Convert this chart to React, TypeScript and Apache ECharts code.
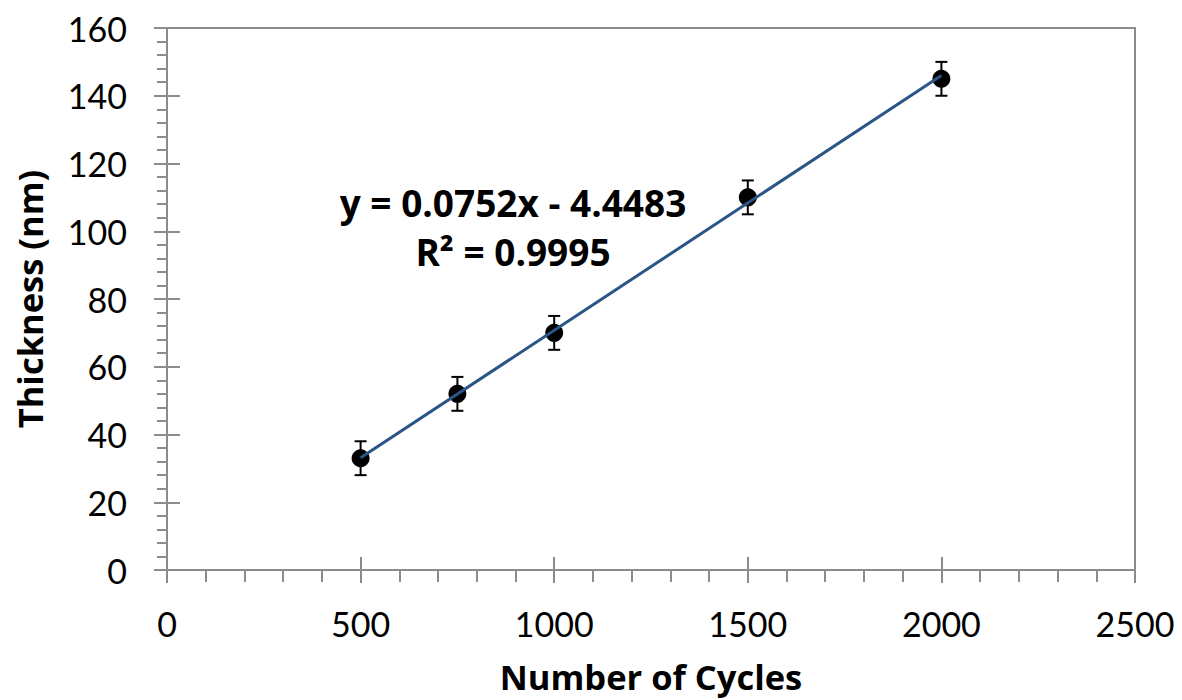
import React, { useEffect, useRef } from "react";
import * as echarts from "echarts";

const cycles = [500, 750, 1000, 1500, 2000];
const thickness = [33, 52, 70, 110, 145];
const errors = [5, 5, 5, 5, 5];
const trendSlope = 0.0752;
const trendIntercept = -4.4483;
const trendRange = [500, 2000];
const equationText = "y = 0.0752x - 4.4483";
const r2Text = "R² = 0.9995";

const FONT = "Lato";
const BOLD_FONT = "'Open Sans'";
const AXIS_GRAY = "#8c8c8c";

export default function App() {
  const ref = useRef<HTMLDivElement>(null);
  useEffect(() => {
    const chart = echarts.init(ref.current!, null, { renderer: "svg" });
    const points = cycles.map((c, i) => [c, thickness[i]]);
    const errData = cycles.map((c, i) => [c, thickness[i], errors[i]]);
    const trend = trendRange.map((x) => [x, trendSlope * x + trendIntercept]);
    const labelStyle = { color: "#000", fontFamily: FONT, fontSize: 34 };
    const nameStyle = { color: "#000", fontFamily: "Open Sans", fontSize: 34.5, fontWeight: "bold" as const };
    chart.setOption({
      animation: false,
      backgroundColor: "#fff",
      grid: {
        left: 167,
        right: 47,
        top: 28,
        bottom: 130,
        containLabel: false,
        outerBoundsMode: "none",
        show: true,
        borderColor: AXIS_GRAY,
        borderWidth: 2,
        backgroundColor: "transparent",
      },
      xAxis: [
        {
          type: "value",
          min: 0,
          max: 2500,
          interval: 500,
          name: "Number of Cycles",
          nameLocation: "middle",
          nameGap: 89,
          nameTextStyle: nameStyle,
          axisLine: { show: true, lineStyle: { color: AXIS_GRAY, width: 2 } },
          axisTick: { show: true, inside: false, length: 13, lineStyle: { color: AXIS_GRAY, width: 2 } },
          minorTick: { show: true, splitNumber: 5, length: 12, lineStyle: { color: AXIS_GRAY, width: 2 } },
          splitLine: { show: false },
          minorSplitLine: { show: false },
          axisLabel: { ...labelStyle, margin: 36, formatter: (v: number) => String(v) },
        },
        {
          type: "value",
          position: "bottom",
          min: 0,
          max: 2500,
          interval: 500,
          axisLine: { show: false },
          axisTick: { show: true, inside: true, length: 13, lineStyle: { color: AXIS_GRAY, width: 2 } },
          axisLabel: { show: false },
          splitLine: { show: false },
        },
      ],
      yAxis: [
        {
          type: "value",
          min: 0,
          max: 160,
          interval: 20,
          name: "Thickness (nm)",
          nameLocation: "middle",
          nameGap: 120,
          nameTextStyle: nameStyle,
          axisLine: { show: true, lineStyle: { color: AXIS_GRAY, width: 2 } },
          axisTick: { show: true, inside: false, length: 13, lineStyle: { color: AXIS_GRAY, width: 2 } },
          minorTick: { show: true, splitNumber: 5, length: 10, lineStyle: { color: AXIS_GRAY, width: 2 } },
          splitLine: { show: false },
          minorSplitLine: { show: false },
          axisLabel: { ...labelStyle, margin: 40 },
        },
        {
          type: "value",
          position: "left",
          min: 0,
          max: 160,
          interval: 20,
          axisLine: { show: false },
          axisTick: { show: true, inside: true, length: 13, lineStyle: { color: AXIS_GRAY, width: 2 } },
          axisLabel: { show: false },
          splitLine: { show: false },
        },
      ],
      series: [
        {
          type: "custom",
          name: "error",
          data: errData,
          z: 2,
          renderItem: (params: any, api: any) => {
            const x = api.value(0);
            const y = api.value(1);
            const e = api.value(2);
            const top = api.coord([x, y + e]);
            const bot = api.coord([x, y - e]);
            const half = 6;
            const style = { stroke: "#000", lineWidth: 2 };
            return {
              type: "group",
              children: [
                { type: "line", shape: { x1: top[0], y1: top[1], x2: bot[0], y2: bot[1] }, style },
                { type: "line", shape: { x1: top[0] - half, y1: top[1], x2: top[0] + half, y2: top[1] }, style },
                { type: "line", shape: { x1: bot[0] - half, y1: bot[1], x2: bot[0] + half, y2: bot[1] }, style },
              ],
            };
          },
        },
        {
          type: "scatter",
          name: "Thickness",
          data: points,
          symbol: "circle",
          symbolSize: 18,
          itemStyle: { color: "#000", opacity: 1 },
          z: 3,
        },
        {
          type: "line",
          name: "Trend",
          data: trend,
          showSymbol: false,
          symbol: "none",
          lineStyle: { color: "#2a5587", width: 3 },
          z: 4,
        },
      ],
      graphic: [
        {
          type: "text",
          x: 513,
          y: 202,
          style: {
            text: equationText,
            fill: "#000",
            font: `bold 37px ${BOLD_FONT}`,
            align: "center",
            verticalAlign: "middle",
          },
        },
        {
          type: "text",
          x: 513,
          y: 251,
          style: {
            text: r2Text,
            fill: "#000",
            font: `bold 37px ${BOLD_FONT}`,
            align: "center",
            verticalAlign: "middle",
          },
        },
      ],
    });
    return () => chart.dispose();
  }, []);
  return (
    <div
      ref={ref}
      style={{ position: "fixed", left: 0, top: 0, width: 1182, height: 700 }}
    />
  );
}
